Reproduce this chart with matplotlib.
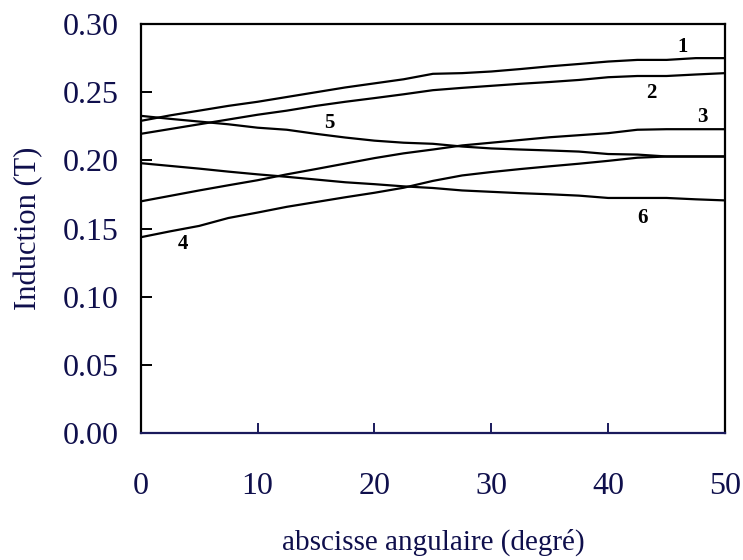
"""Induction le long de l'abscisse angulaire pour six configurations."""

import matplotlib

matplotlib.use("Agg")
import matplotlib.pyplot as plt

angle = [0, 2.5, 5, 7.5, 10, 12.5, 15, 17.5, 20, 22.5, 25,
         27.5, 30, 32.5, 35, 37.5, 40, 42.5, 45, 47.5, 50]

courbe_1 = [0.2290, 0.2330, 0.2365, 0.2400, 0.2430, 0.2465, 0.2500, 0.2535, 0.2565, 0.2595, 0.2635,
            0.2640, 0.2652, 0.2670, 0.2690, 0.2707, 0.2725, 0.2737, 0.2737, 0.2750, 0.2750]
courbe_2 = [0.2195, 0.2230, 0.2265, 0.2300, 0.2335, 0.2365, 0.2400, 0.2430, 0.2457, 0.2485, 0.2515,
            0.2532, 0.2547, 0.2562, 0.2575, 0.2590, 0.2610, 0.2619, 0.2619, 0.2630, 0.2640]
courbe_3 = [0.1700, 0.1740, 0.1780, 0.1818, 0.1855, 0.1898, 0.1937, 0.1977, 0.2017, 0.2052, 0.2080,
            0.2110, 0.2130, 0.2150, 0.2170, 0.2185, 0.2200, 0.2225, 0.2229, 0.2229, 0.2229]
courbe_4 = [0.1437, 0.1480, 0.1520, 0.1578, 0.1618, 0.1660, 0.1695, 0.1730, 0.1763, 0.1800, 0.1850,
            0.1890, 0.1915, 0.1937, 0.1957, 0.1976, 0.1997, 0.2020, 0.2029, 0.2029, 0.2029]
courbe_5 = [0.2327, 0.2305, 0.2285, 0.2265, 0.2240, 0.2225, 0.2195, 0.2168, 0.2145, 0.2130, 0.2122,
            0.2102, 0.2088, 0.2080, 0.2073, 0.2065, 0.2047, 0.2043, 0.2029, 0.2029, 0.2029]
courbe_6 = [0.1980, 0.1960, 0.1940, 0.1918, 0.1898, 0.1880, 0.1860, 0.1840, 0.1826, 0.1810, 0.1798,
            0.1780, 0.1770, 0.1760, 0.1752, 0.1742, 0.1725, 0.1725, 0.1725, 0.1715, 0.1707]

# numéro de chaque courbe et position de son étiquette (degré, tesla)
etiquettes = ["1", "2", "3", "4", "5", "6"]
etiquette_x = [46.4, 43.7, 48.1, 3.6, 16.1, 42.9]
etiquette_y = [0.2834, 0.2493, 0.2317, 0.1390, 0.2273, 0.1578]

x_ticks = [0, 10, 20, 30, 40, 50]
y_ticks = [0.00, 0.05, 0.10, 0.15, 0.20, 0.25, 0.30]

NAVY = "#0f0f4c"

plt.rcParams["font.family"] = ["Liberation Serif", "DejaVu Serif"]

fig = plt.figure(figsize=(7.43, 5.60), dpi=100)
ax = fig.add_axes([0.1894, 0.2263, 0.7864, 0.7308])

for serie in (courbe_1, courbe_2, courbe_3, courbe_4, courbe_5, courbe_6):
    ax.plot(angle, serie, color="black", linewidth=1.6)

for texte, xt, yt in zip(etiquettes, etiquette_x, etiquette_y):
    ax.text(xt, yt, texte, fontsize=15, fontweight="bold", color="black",
            ha="center", va="center")

ax.set_xlim(0, 50)
ax.set_ylim(0, 0.30)
ax.set_xticks(x_ticks)
ax.set_yticks(y_ticks)
ax.set_xticklabels([str(v) for v in x_ticks])
ax.set_yticklabels([f"{v:.2f}" for v in y_ticks])

for side in ("left", "top", "right"):
    ax.spines[side].set_color("black")
    ax.spines[side].set_linewidth(1.6)
ax.spines["bottom"].set_color("#1a1a5c")
ax.spines["bottom"].set_linewidth(1.6)

ax.tick_params(axis="x", direction="in", length=7, width=1.4, color="#1a1a5c",
               pad=28, labelsize=23, labelcolor=NAVY)
ax.tick_params(axis="y", direction="in", length=8, width=1.4, color="black",
               pad=16, labelsize=23, labelcolor=NAVY)

ax.set_xlabel("abscisse angulaire (degré)", fontsize=21, color=NAVY, labelpad=20)
ax.set_ylabel("Induction (T)", fontsize=22, color=NAVY, labelpad=14)

fig.savefig("out.png", dpi=100)
